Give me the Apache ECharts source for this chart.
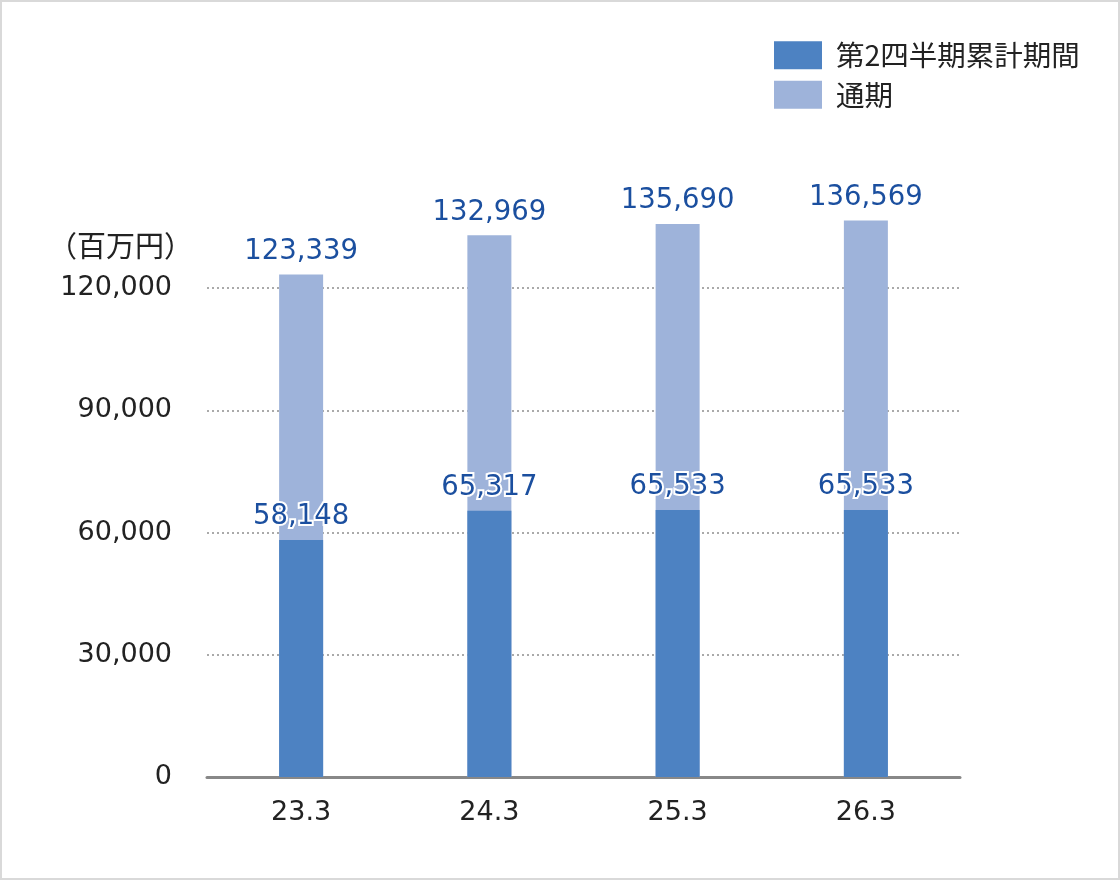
<!DOCTYPE html>
<html>
<head>
<meta charset="utf-8">
<script src="https://cdn.jsdelivr.net/npm/echarts@6/dist/echarts.min.js"></script>
<style>
html,body{margin:0;padding:0;background:#fff;}
#wrap{width:1120px;height:880px;box-sizing:border-box;border:2px solid #d9d9d9;position:relative;}
#chart{position:absolute;left:-2px;top:-2px;width:1120px;height:880px;}
</style>
</head>
<body>
<div id="wrap"><div id="chart"></div></div>
<script>
const categories = ['23.3', '24.3', '25.3', '26.3'];
const fullYear = [123339, 132969, 135690, 136569];
const firstHalf = [58148, 65317, 65533, 65533];
const yTicks = { min: 0, max: 120000, interval: 30000 };
const seriesNames = ['第2四半期累計期間', '通期'];
const unitLabel = '（百万円）';

const FONT = "'DejaVu Sans', 'Noto Sans CJK JP', sans-serif";
const CJK = "'Noto Sans CJK JP', sans-serif";
const fmt = v => Number(v).toLocaleString('en-US');

const chart = echarts.init(document.getElementById('chart'));
chart.setOption({
  backgroundColor: 'transparent',
  animation: false,
  textStyle: { fontFamily: FONT },
  legend: {
    data: seriesNames,
    orient: 'vertical',
    left: 774,
    top: 41,
    padding: 0,
    itemWidth: 48,
    itemHeight: 28,
    itemGap: 11,
    icon: 'rect',
    textStyle: { fontSize: 28.5, color: '#222', fontFamily: CJK, padding: [0, 0, 0, 9] }
  },
  grid: { left: 207, right: 160, top: 288, bottom: 103, containLabel: false },
  xAxis: {
    type: 'category',
    data: categories,
    axisLine: { lineStyle: { color: '#888', width: 3 } },
    axisTick: { show: false },
    axisLabel: { fontSize: 27, color: '#222', margin: 22, fontFamily: FONT }
  },
  yAxis: {
    type: 'value',
    min: yTicks.min,
    max: yTicks.max,
    interval: yTicks.interval,
    name: unitLabel,
    nameLocation: 'end',
    nameGap: 28,
    nameTextStyle: { fontSize: 29, color: '#222', align: 'right', padding: [0, 14, 0, 0], fontFamily: CJK },
    axisLine: { show: false },
    axisTick: { show: false },
    axisLabel: { fontSize: 27, color: '#222', margin: 35, formatter: fmt, fontFamily: FONT },
    splitLine: { lineStyle: { color: '#aaa', width: 2, type: [2, 3] } }
  },
  series: [
    {
      name: seriesNames[1],
      type: 'bar',
      data: fullYear,
      barWidth: 44,
      barGap: '-100%',
      clip: false,
      z: 2,
      itemStyle: { color: '#9EB3DA' },
      label: {
        show: true, position: 'top', distance: 9,
        fontSize: 27.5, color: '#1B4F9F', fontFamily: FONT,
        formatter: p => fmt(p.value)
      }
    },
    {
      name: seriesNames[0],
      type: 'bar',
      data: firstHalf,
      barWidth: 44,
      barGap: '-100%',
      clip: false,
      z: 3,
      itemStyle: { color: '#4D82C2' },
      label: {
        show: true, position: 'top', distance: 9,
        fontSize: 27.5, color: '#1B4F9F', fontFamily: FONT,
        textBorderColor: '#fff', textBorderWidth: 4,
        formatter: p => fmt(p.value)
      }
    }
  ]
});
</script>
</body>
</html>
